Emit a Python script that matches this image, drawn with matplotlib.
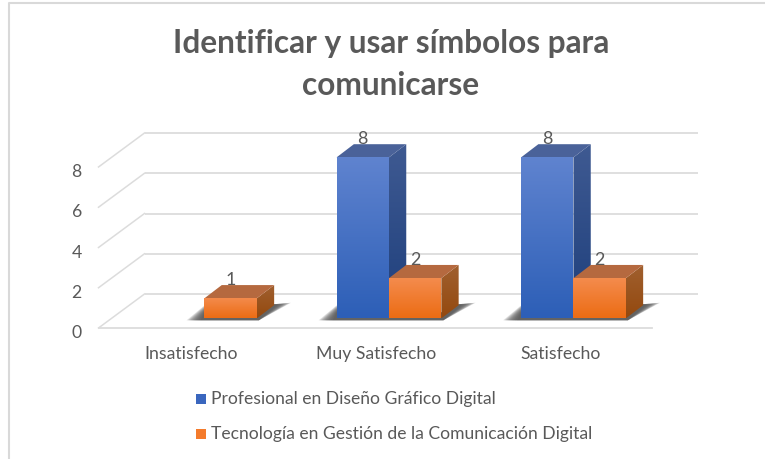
import numpy as np
import matplotlib
matplotlib.use("Agg")
import matplotlib.pyplot as plt
from matplotlib.patches import Polygon, Rectangle
from matplotlib.colors import LinearSegmentedColormap
from matplotlib.transforms import ScaledTranslation

title_lines = ["Identificar y usar símbolos para", "comunicarse"]
categories = ["Insatisfecho", "Muy Satisfecho", "Satisfecho"]
series_names = ["Profesional en Diseño Gráfico Digital",
                "Tecnología en Gestión de la Comunicación Digital"]
profesional = [None, 8, 8]
tecnologia = [1, 2, 2]
y_ticks = [0, 2, 4, 6, 8]

W, H = 765, 460
plt.rcParams['font.family'] = ['Lato', 'DejaVu Sans']
fig = plt.figure(figsize=(W / 100, H / 100), dpi=100, facecolor='white')

# Axes: the front plane of the 3-D box
L, R, B, T = 98.5, 652.0, 329.0, 168.0
ax = fig.add_axes([L / W, 1 - B / H, (R - L) / W, (B - T) / H])
ax.set_xlim(-0.5, 2.5)
ax.set_ylim(0, 8)
for s in ax.spines.values():
    s.set_visible(False)
ax.patch.set_alpha(0)

px = 3.0 / (R - L)          # one pixel in x-data units
py = 8.0 / (B - T)          # one pixel in y-data units

TEXT = '#595959'
GRID = '#DCDCDC'

# walls
wall_dx, wall_dy = 46 * px, 34.0 * py
for v in y_ticks:
    ax.plot([-0.5 + wall_dx, 2.5 + wall_dx], [v + wall_dy] * 2, color=GRID, lw=1.3,
            clip_on=False, zorder=1, solid_capstyle='butt')
    ax.plot([-0.5, -0.5 + wall_dx], [v, v + wall_dy], color=GRID, lw=1.1,
            clip_on=False, zorder=1)
ax.plot([-0.5, 2.5], [0, 0], color=GRID, lw=1.3, clip_on=False, zorder=1)

# bars
bar_w = 52.4 * px
front_dx, front_dy = 13.7 * px, 9.6 * py
depth_dx, depth_dy = 17.3 * px, 13.2 * py


def vgrad(verts, top, bottom, z):
    xs = [p[0] for p in verts]
    ys = [p[1] for p in verts]
    cmap = LinearSegmentedColormap.from_list('g', [bottom, top])
    im = ax.imshow(np.linspace(1, 0, 64)[:, None], extent=(min(xs), max(xs), min(ys), max(ys)),
                   cmap=cmap, aspect='auto', zorder=z, interpolation='bilinear',
                   vmin=0, vmax=1)
    poly = Polygon(verts, closed=True, transform=ax.transData, facecolor='none',
                   edgecolor='none', clip_on=False)
    ax.add_patch(poly)
    im.set_clip_box(fig.bbox)
    im.set_clip_path(poly)


def shadow(x0, x1, z):
    y0 = front_dy
    steps = 12
    for i in range(steps):
        f = (1 - i / steps) ** 0.6
        ax.add_patch(Polygon(
            [(x0 - 18 * px * f, y0 - 1.9 * py),
             (x1 + 2 * px, y0 - 1.9 * py),
             (x1 + depth_dx + 17 * px * f, y0 + depth_dy + 2.5 * py * f),
             (x1 + depth_dx, y0 + depth_dy + 1 * py),
             (x1, y0 + 6 * py),
             (x0, y0 + 4 * py + 9 * py * f)],
            closed=True, facecolor='#333333', edgecolor='none', alpha=0.11,
            zorder=z, clip_on=False))


def bar3d(xl, value, c, z):
    x0, x1 = xl + front_dx, xl + front_dx + bar_w
    y0, y1 = front_dy, front_dy + value
    vgrad([(x1, y0), (x1 + depth_dx, y0 + depth_dy), (x1 + depth_dx, y1 + depth_dy), (x1, y1)],
          c['side_top'], c['side_bot'], z)
    vgrad([(x0, y0), (x1, y0), (x1, y1), (x0, y1)], c['front_top'], c['front_bot'], z + 0.2)
    ax.add_patch(Polygon([(x0, y1), (x1, y1), (x1 + depth_dx, y1 + depth_dy), (x0 + depth_dx, y1 + depth_dy)],
                         closed=True, facecolor=c['top'], edgecolor='none', zorder=z + 0.1, clip_on=False))
    ax.text((x0 + x1) / 2, y1 + depth_dy + 1 * py, str(value), ha='center', va='baseline',
            fontsize=13, color=TEXT, zorder=20, clip_on=False)


BLUE = dict(front_top='#5F83CF', front_bot='#2D5FB7', side_top='#3F5A92', side_bot='#1E3F7C', top='#4A6299')
ORANGE = dict(front_top='#F48C4E', front_bot='#EC6C14', side_top='#A0602F', side_bot='#94490F', top='#B5693F')

for i in range(3):
    left = i - bar_w if profesional[i] is not None else i
    shadow(left + front_dx, i + bar_w + front_dx, 2)
for i in range(3):
    if profesional[i] is not None:
        bar3d(i - bar_w, profesional[i], BLUE, 3)
    bar3d(i, tecnologia[i], ORANGE, 4)

ax.set_xlim(-0.5, 2.5)
ax.set_ylim(0, 8)

# axes ticks
ax.set_xticks(range(3))
ax.set_xticklabels(categories, fontsize=12.7, color=TEXT)
ax.set_yticks(y_ticks)
ax.set_yticklabels([str(v) for v in y_ticks], fontsize=12.7, color=TEXT)
ax.tick_params(axis='x', length=0, pad=12)
ax.tick_params(axis='y', length=0, pad=12)
yshift = ScaledTranslation(0, -2.5 / 100, fig.dpi_scale_trans)
for lab in ax.get_yticklabels():
    lab.set_transform(lab.get_transform() + yshift)
xshift = ScaledTranslation(0.5 / 100, 0, fig.dpi_scale_trans)
for lab in ax.get_xticklabels():
    lab.set_transform(lab.get_transform() + xshift)

# title
for line, yy in zip(title_lines, [44, 85.5]):
    fig.text(391 / W, 1 - yy / H, line, ha='center', va='center', fontsize=22.8,
             fontweight='bold', color=TEXT)

# legend
for name, col, yy in zip(series_names, ['#3A66BE', '#F47B2C'], [399.5, 434.5]):
    fig.patches.append(Rectangle((196 / W, 1 - (yy + 5) / H), 10 / W, 10 / H, transform=fig.transFigure,
                                 facecolor=col, edgecolor='none'))
    fig.text(211 / W, 1 - yy / H, name, ha='left', va='center', fontsize=12.6, color=TEXT)

# chart frame
fig.add_artist(plt.Line2D([9 / W, 9 / W, 1], [0, 1 - 4.2 / H, 1 - 4.2 / H], color='#D9D9D9', lw=1.5,
                          transform=fig.transFigure))

fig.savefig('out.png', dpi=100)
